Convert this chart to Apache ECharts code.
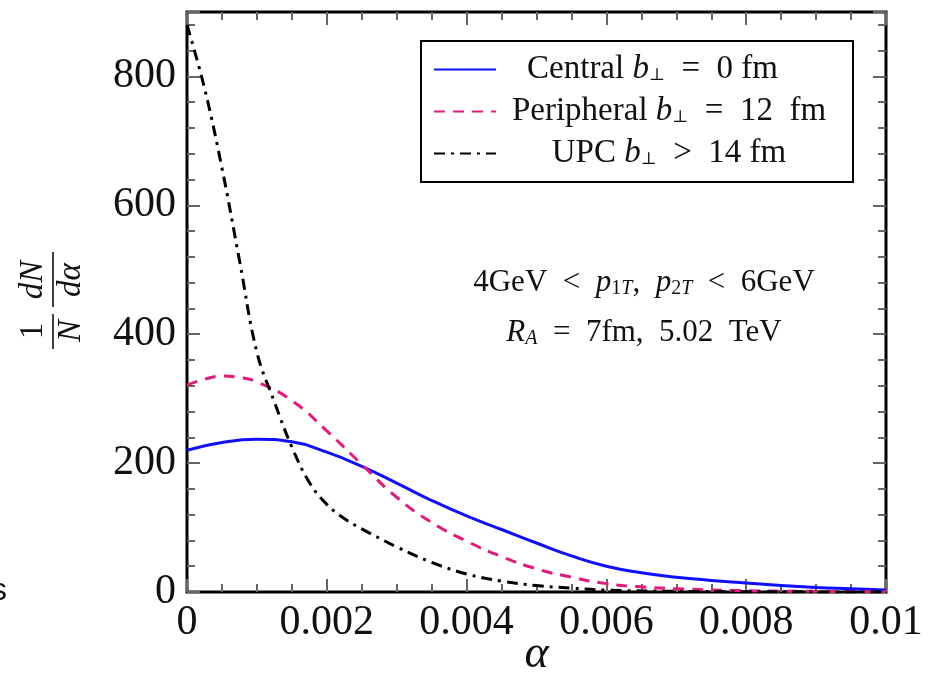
<!DOCTYPE html>
<html>
<head>
<meta charset="utf-8">
<script src="https://cdn.jsdelivr.net/npm/echarts@6/dist/echarts.min.js"></script>
<style>
html, body { margin: 0; background: #fff; }
#chart { width: 933px; height: 683px; }
</style>
</head>
<body>
<div id="chart"></div>
<script>
// 1/N dN/dα 分布 (central / peripheral / UPC)
const seriesNames = ["Central", "Peripheral", "UPC"];

const alphaCentral = [0, 0.0005, 0.001, 0.0015, 0.002, 0.0025, 0.003, 0.0035, 0.004, 0.0045, 0.005,
  0.0055, 0.006, 0.0065, 0.007, 0.0075, 0.008, 0.0085, 0.009, 0.0095, 0.01];
const centralVals = [220, 232, 237, 233, 217, 195, 169, 142, 118, 97, 76,
  56, 40, 30, 23, 18, 14, 10, 7, 5, 3];

const alphaPeripheral = [0, 0.00025, 0.0005, 0.00075, 0.001, 0.0015, 0.002, 0.0025, 0.003, 0.0035, 0.004,
  0.0045, 0.005, 0.0055, 0.006, 0.0065, 0.007, 0.008, 0.009, 0.01];
const peripheralVals = [321, 330, 335, 333, 326, 297, 250, 198, 147, 108, 79,
  55, 36, 23, 13, 8, 5, 2, 1, 0.5];

const alphaUpc = [0, 0.00025, 0.0005, 0.00075, 0.001, 0.00125, 0.0015, 0.00175, 0.002, 0.00225, 0.0025,
  0.003, 0.0035, 0.004, 0.0045, 0.005, 0.0055, 0.006, 0.007, 0.008, 0.009, 0.01];
const upcVals = [880, 782, 658, 515, 372, 295, 225, 170, 136, 114, 98,
  70, 46, 28, 17, 10, 6, 3, 1, 0.5, 0.2, 0];

const legendLabels = {
  Central: "{t|Central }{i|b}{s|⊥}{t|  =  0 fm    }",
  Peripheral: "{t|Peripheral }{i|b}{s|⊥}{t|  =  12  fm}",
  UPC: "{t|UPC }{i|b}{s|⊥}{t|  >  14 fm}"
};

const serif = "Liberation Serif";
const tickColor = "#666";

function pairs(xs, ys) {
  return xs.map((x, i) => [x, ys[i]]);
}

const chart = echarts.init(document.getElementById("chart"));

const xBase = {
  type: "value",
  min: 0,
  max: 0.01,
  interval: 0.002,
  axisLine: { show: false, onZero: false },
  splitLine: { show: false },
  axisTick: { inside: true, length: 13, lineStyle: { color: tickColor, width: 2 } },
  minorTick: { show: true, splitNumber: 4, length: 8, lineStyle: { color: tickColor, width: 2 } }
};

function yAxisDef(position, interval, len, labels) {
  return {
    type: "value",
    position: position,
    min: 0,
    max: 900,
    interval: interval,
    axisLine: { show: false, onZero: false },
    splitLine: { show: false },
    axisTick: { inside: true, length: len, lineStyle: { color: tickColor, width: 2 } },
    axisLabel: labels ? {
      margin: 11,
      fontFamily: serif,
      fontSize: 42,
      color: "#111",
      formatter: v => (v % 200 === 0 && v <= 800 ? String(v) : "")
    } : { show: false }
  };
}

const richLegend = {
  t: { fontFamily: serif, fontSize: 33, color: "#111", align: "center" },
  i: { fontFamily: serif, fontSize: 33, fontStyle: "italic", color: "#111", align: "center" },
  s: { fontFamily: "DejaVu Serif", fontSize: 17, color: "#111", align: "center", verticalAlign: "bottom" }
};

const richNote = {
  t: { fontFamily: serif, fontSize: 31, fill: "#111" },
  i: { fontFamily: serif, fontSize: 31, fontStyle: "italic", fill: "#111" },
  s: { fontFamily: serif, fontSize: 20, fill: "#111", verticalAlign: "bottom" },
  si: { fontFamily: serif, fontSize: 20, fontStyle: "italic", fill: "#111", verticalAlign: "bottom" }
};

chart.setOption({
  animation: false,
  backgroundColor: "#fff",
  grid: {
    left: 187,
    top: 12,
    width: 699,
    height: 580,
    outerBoundsMode: "none",
    containLabel: false,
    show: true,
    borderColor: "#000",
    borderWidth: 3,
    backgroundColor: "transparent"
  },
  legend: {
    data: seriesNames,
    orient: "vertical",
    left: 421,
    top: 41,
    itemWidth: 62,
    itemHeight: 14,
    itemGap: 9,
    padding: [12, 16, 12, 12],
    borderColor: "#000",
    borderWidth: 2,
    backgroundColor: "#fff",
    itemStyle: { opacity: 0 },
    formatter: name => legendLabels[name],
    textStyle: { width: 336, lineHeight: 30, rich: richLegend }
  },
  xAxis: [
    Object.assign({}, xBase, {
      position: "bottom",
      axisLabel: {
        margin: 10,
        fontFamily: serif,
        fontSize: 42,
        color: "#111",
        formatter: v => (v === 0 ? "0" : String(+v.toFixed(4)))
      },
      name: "α",
      nameLocation: "middle",
      nameGap: 40,
      nameMoveOverlap: false,
      nameTextStyle: { fontFamily: serif, fontStyle: "italic", fontSize: 46, color: "#111" }
    }),
    Object.assign({}, xBase, { position: "top", axisLabel: { show: false } })
  ],
  yAxis: [
    yAxisDef("left", 200, 13, true),
    yAxisDef("left", 40, 8, false),
    yAxisDef("right", 200, 13, false),
    yAxisDef("right", 40, 8, false)
  ],
  series: [
    {
      name: "Central",
      type: "line",
      symbol: "none",
      smooth: 0.5,
      lineStyle: { color: "#1010ff", width: 3, type: "solid" },
      itemStyle: { color: "#1010ff" },
      data: pairs(alphaCentral, centralVals),
      z: 3
    },
    {
      name: "Peripheral",
      type: "line",
      symbol: "none",
      smooth: 0.5,
      lineStyle: { color: "#e3197b", width: 3, type: [11, 8] },
      itemStyle: { color: "#e3197b" },
      data: pairs(alphaPeripheral, peripheralVals),
      z: 3
    },
    {
      name: "UPC",
      type: "line",
      symbol: "none",
      smooth: 0.4,
      lineStyle: { color: "#000", width: 3, type: [11, 6, 3, 6] },
      itemStyle: { color: "#000" },
      data: pairs(alphaUpc, upcVals),
      z: 3
    }
  ],
  graphic: [
    {
      type: "text",
      x: 644,
      y: 283,
      style: {
        text: "{t|4GeV  <  }{i|p}{s|1}{si|T}{t|,  }{i|p}{s|2}{si|T}{t|  <  6GeV}",
        align: "center",
        verticalAlign: "middle",
        rich: richNote
      }
    },
    {
      type: "text",
      x: 644,
      y: 333,
      style: {
        text: "{i|R}{si|A}{t|  =  7fm,  5.02  TeV}",
        align: "center",
        verticalAlign: "middle",
        rich: richNote
      }
    },
    {
      // y 轴标题 1/N dN/dα, 旋转 90°
      type: "group",
      x: 53,
      y: 305,
      rotation: Math.PI / 2,
      children: [
        { type: "text", x: -26, y: -3, style: { text: "1", font: "33px " + serif, fill: "#111", align: "center", verticalAlign: "bottom" } },
        { type: "line", shape: { x1: -44, y1: 0, x2: -9, y2: 0 }, style: { stroke: "#111", lineWidth: 1.6 } },
        { type: "text", x: -26, y: 2, style: { text: "N", font: "italic 33px " + serif, fill: "#111", align: "center", verticalAlign: "top" } },
        { type: "text", x: 25, y: -3, style: { text: "dN", font: "italic 33px " + serif, fill: "#111", align: "center", verticalAlign: "bottom" } },
        { type: "line", shape: { x1: -2, y1: 0, x2: 53, y2: 0 }, style: { stroke: "#111", lineWidth: 1.6 } },
        { type: "text", x: 25, y: 2, style: { text: "dα", font: "italic 33px " + serif, fill: "#111", align: "center", verticalAlign: "top" } }
      ]
    },
    {
      type: "text",
      x: -9,
      y: 591,
      style: { text: "s", font: "32px 'Liberation Sans'", fill: "#111", verticalAlign: "middle" }
    }
  ]
});
</script>
</body>
</html>
